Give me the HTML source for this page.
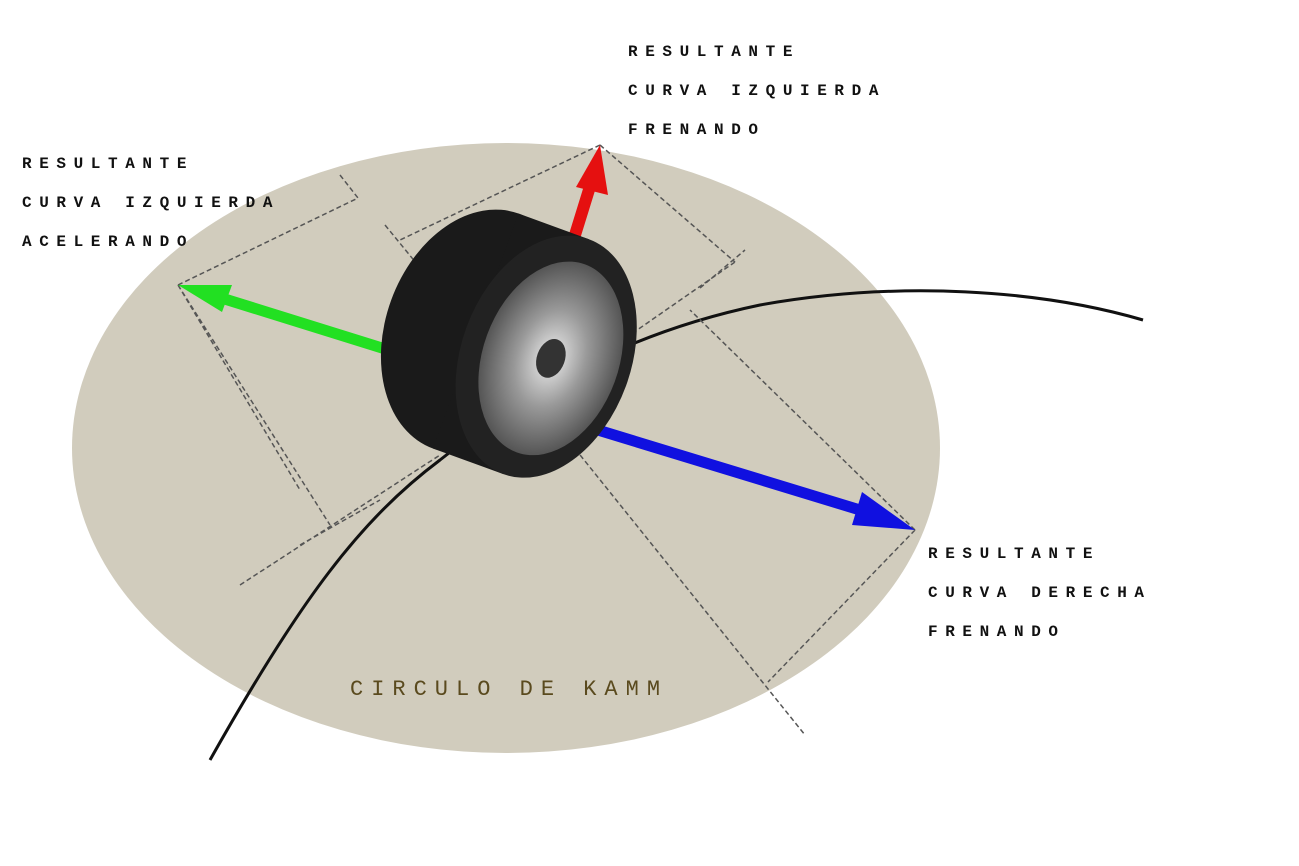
<!DOCTYPE html>
<html><head><meta charset="utf-8"><style>
body{margin:0;width:1299px;height:866px;background:#fff;overflow:hidden;position:relative;font-family:"Liberation Mono",monospace}
.t{position:absolute;font-size:16px;letter-spacing:7.6px;color:#111;line-height:39px;white-space:pre;font-weight:bold}
</style></head><body>
<svg width="1299" height="866" style="position:absolute;left:0;top:0">
<defs>
<radialGradient id="rim" cx="50%" cy="50%" r="50%"><stop offset="0" stop-color="#eee"/><stop offset="0.5" stop-color="#999"/><stop offset="1" stop-color="#555"/></radialGradient>
</defs>
<ellipse cx="506" cy="448" rx="434" ry="305" fill="#d1ccbd"/>
<path d="M210 760 C300 600 360 520 440 460 C540 380 640 330 760 305 C900 280 1040 290 1143 320" fill="none" stroke="#111" stroke-width="3"/>
<g stroke="#555" stroke-width="1.5" stroke-dasharray="5,3" fill="none">
<path d="M178 285 L330 525 M178 285 L358 198 M340 175 L358 198 M178 285 L300 490"/>
<path d="M600 145 L735 262 M600 145 L400 240 M385 225 L430 280 M735 262 L630 335 M700 288 L745 250"/>
<path d="M915 530 L690 310 M915 530 L768 682 M560 430 L805 735 M240 585 L440 455 M300 545 L380 500"/>
</g>
<g stroke-linecap="round">
<line x1="395" y1="352" x2="215" y2="296" stroke="#22e022" stroke-width="11"/>
<polygon points="178,285 232,285 222,312" fill="#22e022"/>
<line x1="575" y1="235" x2="592" y2="180" stroke="#e51010" stroke-width="12"/>
<polygon points="600,145 608,195 576,187" fill="#e51010"/>
<line x1="565" y1="420" x2="860" y2="510" stroke="#1010e0" stroke-width="11"/>
<polygon points="915,530 852,525 862,492" fill="#1010e0"/>
</g>
<g transform="rotate(20 515 340)">
<ellipse cx="475" cy="345" rx="90" ry="125" fill="#1a1a1a"/>
<rect x="475" y="220" width="75" height="250" fill="#1a1a1a"/>
<ellipse cx="550" cy="345" rx="85" ry="125" fill="#222"/>
<ellipse cx="555" cy="345" rx="68" ry="100" fill="url(#rim)"/>
<ellipse cx="555" cy="345" rx="14" ry="20" fill="#333"/>
</g>
</svg>
<div class="t" style="left:22px;top:145px">RESULTANTE
CURVA IZQUIERDA
ACELERANDO</div>
<div class="t" style="left:628px;top:33px">RESULTANTE
CURVA IZQUIERDA
FRENANDO</div>
<div class="t" style="left:928px;top:535px">RESULTANTE
CURVA DERECHA
FRENANDO</div>
<div class="t" style="left:350px;top:670px;font-size:22px;letter-spacing:8px;color:#5a4a1e;font-weight:normal">CIRCULO DE KAMM</div>
</body></html>
